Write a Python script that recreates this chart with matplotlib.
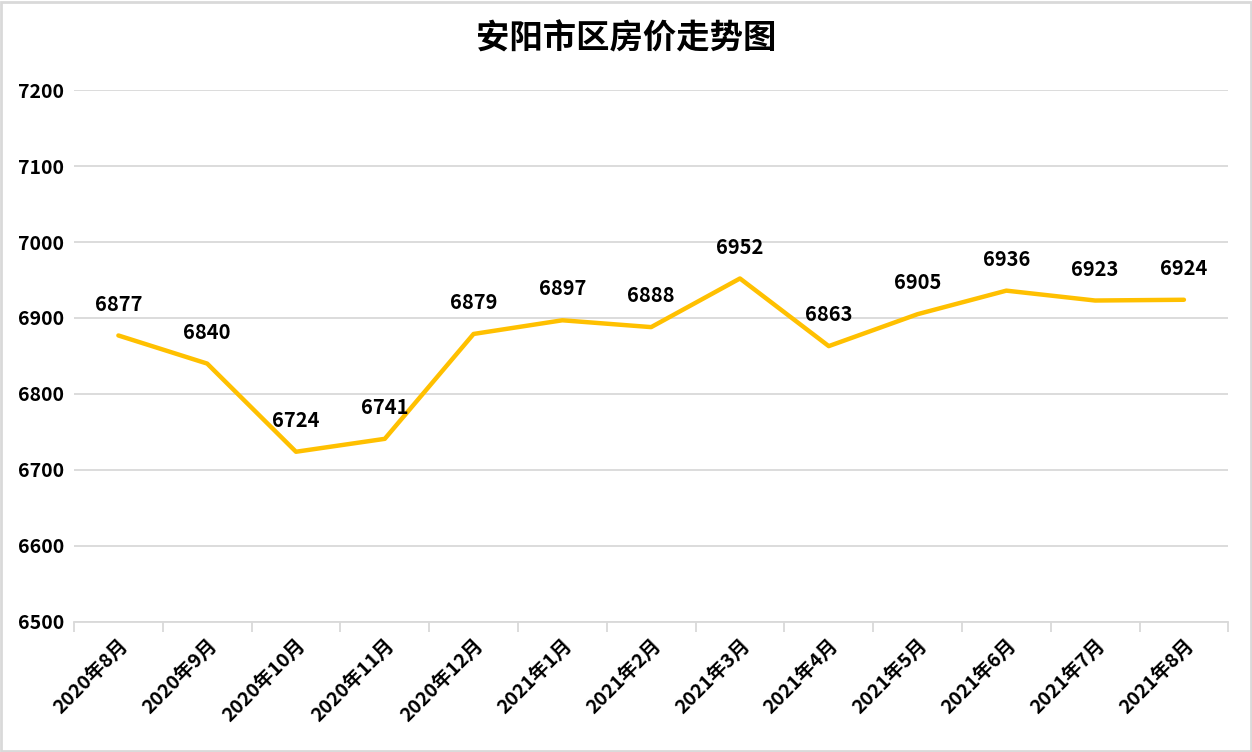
import matplotlib.pyplot as plt
import numpy as np

plt.rcParams['font.family'] = ['Noto Sans CJK SC', 'DejaVu Sans']

months = ['2020年8月', '2020年9月', '2020年10月', '2020年11月', '2020年12月',
          '2021年1月', '2021年2月', '2021年3月', '2021年4月', '2021年5月',
          '2021年6月', '2021年7月', '2021年8月']
prices = [6877, 6840, 6724, 6741, 6879, 6897, 6888, 6952, 6863, 6905,
          6936, 6923, 6924]

grid_color = '#d9d9d9'
line_color = '#ffc000'
wt = 'heavy'

fig = plt.figure(figsize=(12.52, 7.52), dpi=100)
ax = fig.add_axes([0.0591, 0.1729, 0.9220, 0.7074])

x = np.arange(len(months))
ax.plot(x, prices, color=line_color, linewidth=3.2, solid_capstyle='round',
        solid_joinstyle='round', zorder=3)

for xi, p in zip(x, prices):
    ax.annotate(str(p), (xi, p), xytext=(0, 15), textcoords='offset points',
                ha='center', va='bottom', fontsize=14.5, fontweight=wt)

ax.set_xlim(-0.5, len(months) - 0.5)
ax.set_ylim(6500, 7200)
ax.set_yticks(np.arange(6500, 7201, 100))
ax.grid(axis='y', color=grid_color, linewidth=1.3)
ax.set_axisbelow(True)

ax.set_xticks(x)
ax.set_xticklabels(months, rotation=45, ha='right', rotation_mode='anchor',
                   fontsize=14, fontweight=wt)
ax.set_xticks(np.arange(-0.5, len(months)), minor=True)
ax.tick_params(axis='x', which='major', length=0, pad=10)
ax.tick_params(axis='x', which='minor', length=7, color=grid_color, width=1.3)
ax.tick_params(axis='y', length=0, pad=7, labelsize=14)
for lbl in ax.get_yticklabels():
    lbl.set_fontweight(wt)

for side in ['top', 'right', 'left']:
    ax.spines[side].set_visible(False)
ax.spines['bottom'].set_color(grid_color)
ax.spines['bottom'].set_linewidth(1.3)

fig.suptitle('安阳市区房价走势图', x=0.5, y=0.97, fontsize=24, fontweight=wt)

fig.patches.append(plt.Rectangle((0.001, 0.001), 0.998, 0.997, transform=fig.transFigure,
                                 fill=False, edgecolor=grid_color, linewidth=2))

fig.savefig('out.png', dpi=100)
